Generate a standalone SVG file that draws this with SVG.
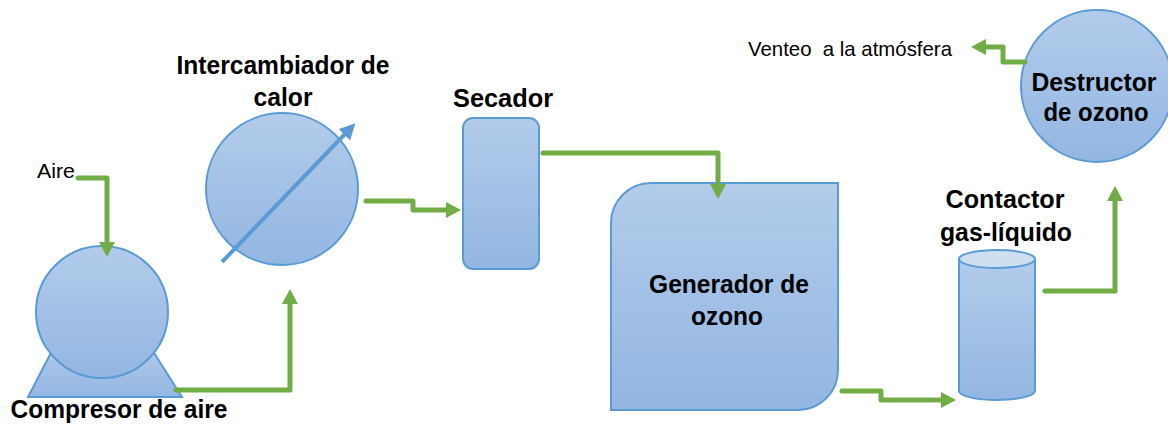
<svg xmlns="http://www.w3.org/2000/svg" width="1168" height="427" viewBox="0 0 1168 427">
<style>
.shape{fill:url(#blueGrad);stroke:#5B9BD5;stroke-width:2}
.lbl{font-family:"Liberation Sans",Arial,sans-serif;font-weight:bold;font-size:26px;fill:#000;text-anchor:middle}
.plain{font-family:"Liberation Sans",Arial,sans-serif;font-size:21px;fill:#000;white-space:pre}
.flow{fill:none;stroke:#70AD47;stroke-width:5;stroke-linejoin:round;stroke-linecap:round;marker-end:url(#greenArrow)}
</style>
<defs>
<linearGradient id="blueGrad" x1="0" y1="0" x2="0" y2="1">
<stop offset="0" stop-color="#B2CCEA"/>
<stop offset="1" stop-color="#93B6E2"/>
</linearGradient>
<marker id="greenArrow" viewBox="0 0 15 16" refX="1" refY="8" markerWidth="15" markerHeight="16" markerUnits="userSpaceOnUse" orient="auto">
<path d="M0,0 L15,8 L0,16 Z" fill="#70AD47"/>
</marker>
<marker id="blueArrow" viewBox="0 0 16 16" refX="1" refY="8" markerWidth="16" markerHeight="16" markerUnits="userSpaceOnUse" orient="auto">
<path d="M0,0 L16,8 L0,16 Z" fill="#5B9BD5"/>
</marker>
</defs>

<g id="compresor">
<polygon class="shape" points="28,397 182,397 149,345 55,345"/>
<circle class="shape" cx="102" cy="312" r="66"/>
<text class="lbl" x="119" y="418" textLength="217" lengthAdjust="spacingAndGlyphs">Compresor de aire</text>
</g>

<g id="intercambiador">
<circle class="shape" cx="282" cy="189" r="76"/>
<line x1="222" y1="262" x2="345" y2="134" stroke="#5B9BD5" stroke-width="4" marker-end="url(#blueArrow)"/>
<text class="lbl" x="283" y="74" textLength="213" lengthAdjust="spacingAndGlyphs">Intercambiador de</text>
<text class="lbl" x="283" y="106" textLength="59" lengthAdjust="spacingAndGlyphs">calor</text>
</g>

<g id="secador">
<rect class="shape" x="463" y="118" width="76" height="151" rx="10" ry="10"/>
<text class="lbl" x="503" y="107" textLength="100" lengthAdjust="spacingAndGlyphs">Secador</text>
</g>

<g id="generador">
<path class="shape" d="M651,183 H838 V370 A40,40 0 0 1 798,410 H611 V223 A40,40 0 0 1 651,183 Z"/>
<text class="lbl" x="729" y="293" textLength="160" lengthAdjust="spacingAndGlyphs">Generador de</text>
<text class="lbl" x="727" y="325" textLength="72" lengthAdjust="spacingAndGlyphs">ozono</text>
</g>

<g id="contactor">
<path class="shape" d="M959,259 V391 A38,9 0 0 0 1035,391 V259"/>
<ellipse cx="997" cy="259" rx="38" ry="9" fill="#CFDFF2" stroke="#5B9BD5" stroke-width="2"/>
<text class="lbl" x="1005" y="208" textLength="119" lengthAdjust="spacingAndGlyphs">Contactor</text>
<text class="lbl" x="1006" y="241" textLength="132" lengthAdjust="spacingAndGlyphs">gas-líquido</text>
</g>

<g id="destructor">
<circle class="shape" cx="1097" cy="86" r="76"/>
<text class="lbl" x="1094" y="91" textLength="125" lengthAdjust="spacingAndGlyphs">Destructor</text>
<text class="lbl" x="1096" y="121" textLength="105" lengthAdjust="spacingAndGlyphs">de ozono</text>
</g>

<g id="aire">
<text class="plain" x="37" y="178" textLength="38" lengthAdjust="spacingAndGlyphs">Aire</text>
</g>

<g id="venteo">
<text class="plain" x="748" y="56" textLength="204" lengthAdjust="spacingAndGlyphs" xml:space="preserve">Venteo  a la atmósfera</text>
</g>

<g id="connectors">
<path class="flow" d="M78,178 H107 V243"/>
<path class="flow" d="M176,390 H290 V303"/>
<path class="flow" d="M366,201 H413 V210 H447"/>
<path class="flow" d="M543,153 H718 V185"/>
<path class="flow" d="M842,391 H881 V400 H942"/>
<path class="flow" d="M1045,291 H1115 V200"/>
<path class="flow" d="M1025,62 H1003 V47 H985"/>
</g>
</svg>
